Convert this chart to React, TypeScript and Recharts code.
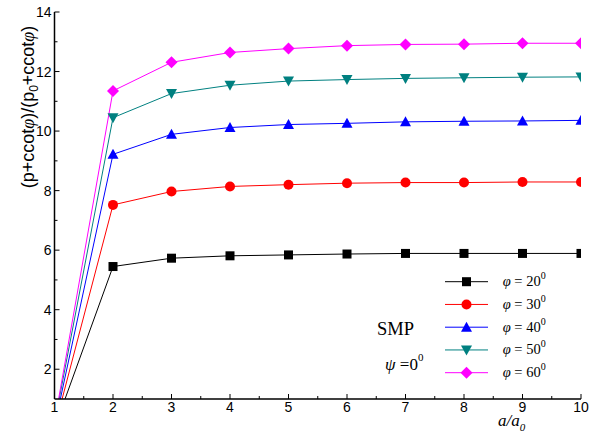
import React from 'react';
import { LineChart, Line, XAxis, YAxis, Legend, Customized } from 'recharts';

// a/a0 sample positions carrying markers
const aRatio = [2, 3, 4, 5, 6, 7, 8, 9, 10];
// friction angle of each curve, degrees
const frictionAngles = [20, 30, 40, 50, 60];
// a/a0 where each curve leaves the baseline p/p0 ratio of 1
const onsetRatio = [1.18, 1.13, 1.1, 1.08, 1.07];
const onsetValue = 1;

// (p + c cot φ) / (p0 + c cot φ) for each friction angle
const phi20 = [5.45, 5.73, 5.81, 5.84, 5.87, 5.89, 5.89, 5.89, 5.89];
const phi30 = [7.52, 7.97, 8.14, 8.2, 8.25, 8.27, 8.27, 8.29, 8.29];
const phi40 = [9.22, 9.89, 10.12, 10.22, 10.26, 10.31, 10.33, 10.34, 10.36];
const phi50 = [10.45, 11.26, 11.54, 11.68, 11.73, 11.77, 11.79, 11.81, 11.82];
const phi60 = [11.35, 12.31, 12.64, 12.77, 12.87, 12.91, 12.92, 12.95, 12.95];

const seriesValues = [phi20, phi30, phi40, phi50, phi60];
const seriesColors = ['#000000', '#ff0000', '#0000ff', '#008080', '#ff00ff'];
const markerShapes = ['square', 'circle', 'triangle', 'invTriangle', 'diamond'];

const xTicks = [1, 1.5, 2, 2.5, 3, 3.5, 4, 4.5, 5, 5.5, 6, 6.5, 7, 7.5, 8, 8.5, 9, 9.5, 10];
const yTicks = [2, 3, 4, 5, 6, 7, 8, 9, 10, 11, 12, 13, 14];

const SANS = '"Liberation Sans", Arial, sans-serif';
const SERIF = '"Liberation Serif", "Times New Roman", serif';

const series = frictionAngles.map((angle, s) => ({
  key: `phi${angle}`,
  angle,
  color: seriesColors[s],
  shape: markerShapes[s],
  data: [
    { x: onsetRatio[s], y: onsetValue },
    ...aRatio.map((x, i) => ({ x, y: seriesValues[s][i] })),
  ],
}));

function Marker({ shape, cx, cy, color }: { shape: string; cx: number; cy: number; color: string }) {
  switch (shape) {
    case 'square':
      return <rect x={cx - 4.5} y={cy - 4.5} width={9} height={9} fill={color} />;
    case 'circle':
      return <circle cx={cx} cy={cy} r={5} fill={color} />;
    case 'triangle':
      return <polygon points={`${cx},${cy - 5.5} ${cx + 5.5},${cy + 4.5} ${cx - 5.5},${cy + 4.5}`} fill={color} />;
    case 'invTriangle':
      return <polygon points={`${cx},${cy + 5.5} ${cx + 5.5},${cy - 4.5} ${cx - 5.5},${cy - 4.5}`} fill={color} />;
    default:
      return <polygon points={`${cx},${cy - 6} ${cx + 6},${cy} ${cx},${cy + 6} ${cx - 6},${cy}`} fill={color} />;
  }
}

// Bottom axis: inward ticks, labels only on whole numbers
function XTick(props: any) {
  const { x, y, payload } = props;
  const major = Number.isInteger(payload.value);
  return (
    <g>
      <line x1={x} y1={y} x2={x} y2={y - (major ? 5 : 3)} stroke="#000" strokeWidth={1} />
      {major && (
        <text x={x} y={y + 13} textAnchor="middle" fontFamily={SANS} fontSize={14} fill="#000">
          {payload.value}
        </text>
      )}
    </g>
  );
}

// Left axis: inward ticks, labels on even values
function YTick(props: any) {
  const { x, y, payload } = props;
  const major = payload.value % 2 === 0;
  return (
    <g>
      <line x1={x} y1={y} x2={x + (major ? 5 : 3)} y2={y} stroke="#000" strokeWidth={1} />
      {major && (
        <text x={x - 3} y={y + 5} textAnchor="end" fontFamily={SANS} fontSize={14} fill="#000">
          {payload.value}
        </text>
      )}
    </g>
  );
}

function YTitle() {
  return (
    <text
      transform="translate(34,107) rotate(-90)"
      textAnchor="middle"
      fontFamily={SANS}
      fontSize={18}
      fill="#000"
    >
      (p+ccot<tspan fontFamily={SERIF} fontStyle="italic">φ</tspan>)/(p
      <tspan fontSize={12} dy={4}>0</tspan>
      <tspan dy={-4}>+ccot</tspan>
      <tspan fontFamily={SERIF} fontStyle="italic">φ</tspan>)
    </text>
  );
}

function XTitle() {
  return (
    <text x={498} y={426} fontFamily={SERIF} fontStyle="italic" fontSize={17} fill="#000">
      a/a<tspan fontSize={11} dy={5}>0</tspan>
    </text>
  );
}

function Notes() {
  return (
    <g fontFamily={SERIF} fill="#000">
      <text x={377} y={335} fontSize={18.5}>SMP</text>
      <text x={385} y={370} fontSize={17}>
        <tspan fontStyle="italic">ψ</tspan> =0<tspan fontSize={11} dy={-9}>0</tspan>
      </text>
    </g>
  );
}

function LegendBlock(props: any) {
  const payload = props.payload || [];
  return (
    <svg width={160} height={118} style={{ display: 'block', overflow: 'visible' }}>
      {payload.map((item: any, i: number) => {
        const s = series.find((d) => d.key === item.dataKey) || series[i];
        const cy = 13.7 + i * 22.75;
        return (
          <g key={s.key}>
            <line x1={5} y1={cy} x2={48} y2={cy} stroke={s.color} strokeWidth={1} />
            <Marker shape={s.shape} cx={26.5} cy={cy} color={s.color} />
            <text x={62.7} y={cy + 4.5} fontFamily={SERIF} fontSize={14.5} fill="#000">
              <tspan fontStyle="italic">φ</tspan> = {s.angle}
              <tspan fontSize={10} dy={-7}>0</tspan>
            </text>
          </g>
        );
      })}
    </svg>
  );
}

export default function App() {
  return (
    <div style={{ position: 'absolute', left: 0, top: 0, background: '#fff' }}>
      <LineChart width={608} height={435} margin={{ top: 12, right: 27, bottom: 6, left: 0 }}>
        <XAxis
          type="number"
          dataKey="x"
          domain={[1, 10]}
          ticks={xTicks}
          interval={0}
          allowDataOverflow
          height={30}
          tickLine={false}
          tickSize={0}
          tickMargin={0}
          tick={<XTick />}
          axisLine={{ stroke: '#000', strokeWidth: 1.5 }}
          label={<XTitle />}
        />
        <YAxis
          type="number"
          domain={[1, 14]}
          ticks={yTicks}
          interval={0}
          allowDataOverflow
          width={54.5}
          tickLine={false}
          tickSize={0}
          tickMargin={0}
          tick={<YTick />}
          axisLine={{ stroke: '#000', strokeWidth: 1.5 }}
          label={<YTitle />}
        />
        {series.map((s) => (
          <Line
            key={s.key}
            name={s.key}
            data={s.data}
            dataKey="y"
            type="linear"
            stroke={s.color}
            strokeWidth={1}
            isAnimationActive={false}
            activeDot={false}
            dot={(p: any) =>
              p.index === 0 ? (
                <g key={`${s.key}-${p.index}`} />
              ) : (
                <Marker key={`${s.key}-${p.index}`} shape={s.shape} cx={p.cx} cy={p.cy} color={s.color} />
              )
            }
          />
        ))}
        <Legend
          layout="vertical"
          align="center"
          verticalAlign="middle"
          content={<LegendBlock />}
          wrapperStyle={{ position: 'absolute', left: 440, top: 268, width: 160, height: 118 }}
        />
        <Customized component={<Notes />} />
      </LineChart>
    </div>
  );
}
